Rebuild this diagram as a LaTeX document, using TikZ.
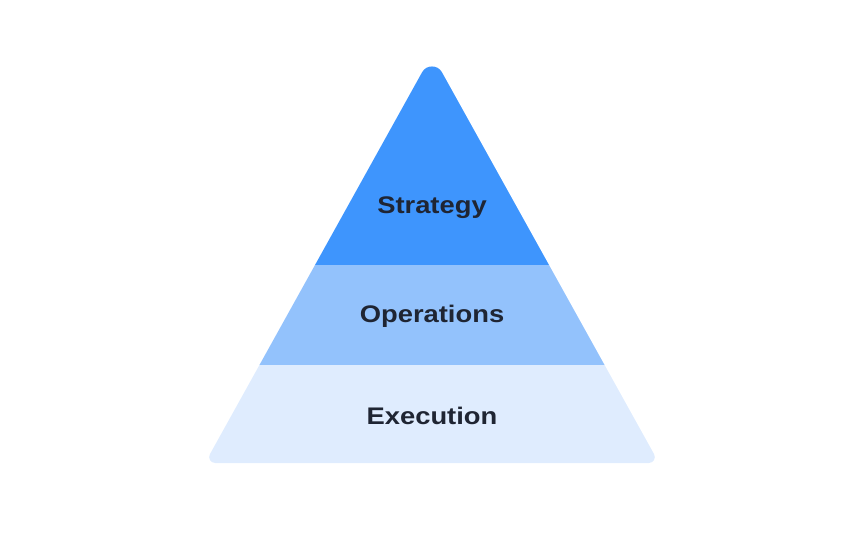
\documentclass[tikz,border=0pt]{standalone}
\usepackage{fontspec}
\usetikzlibrary{calc}
\setmainfont{Liberation Sans}
\newfontfamily\lblfont[FakeStretch=1.14]{Liberation Sans}
\definecolor{topc}{HTML}{3E95FD}
\definecolor{midc}{HTML}{93C2FC}
\definecolor{botc}{HTML}{DFECFE}
\definecolor{txt}{HTML}{1F2533}
\begin{document}
\begin{tikzpicture}[x=1pt,y=-1pt,
  lbl/.style={font=\lblfont\bfseries\fontsize{24}{28}\selectfont, text=txt, inner sep=0pt}]
\useasboundingbox (0,0) rectangle (864,540);
\coordinate (A) at (432,54.4);
\coordinate (R) at (659,463);
\coordinate (L) at (205,463);
% apex rounding
\coordinate (A1) at ($(A)!20.3pt!(L)$);
\coordinate (A1c) at ($(A)!11.6pt!(L)$);
\coordinate (A2) at ($(A)!20.3pt!(R)$);
\coordinate (A2c) at ($(A)!11.6pt!(R)$);
% bottom right
\coordinate (R1) at ($(R)!10.2pt!(A)$);
\coordinate (R1c) at ($(R)!5.6pt!(A)$);
\coordinate (R2) at ($(R)!10.2pt!(L)$);
\coordinate (R2c) at ($(R)!5.6pt!(L)$);
% bottom left
\coordinate (L1) at ($(L)!10.2pt!(R)$);
\coordinate (L1c) at ($(L)!5.6pt!(R)$);
\coordinate (L2) at ($(L)!10.2pt!(A)$);
\coordinate (L2c) at ($(L)!5.6pt!(A)$);
\begin{scope}
  \clip (L2) -- (A1) .. controls (A1c) and (A2c) .. (A2) -- (R1)
        .. controls (R1c) and (R2c) .. (R2) -- (L1)
        .. controls (L1c) and (L2c) .. (L2) -- cycle;
  \fill[topc] (150,40) rectangle (720,265);
  \fill[midc] (150,265) rectangle (720,364.5);
  \fill[botc] (150,364.5) rectangle (720,470);
\end{scope}
\node[lbl] (s) at (432,207.5) {Strategy};
\node[lbl] (o) at (432,316) {Operations};
\node[lbl] (e) at (432,415.5) {Execution};
\end{tikzpicture}
\end{document}
